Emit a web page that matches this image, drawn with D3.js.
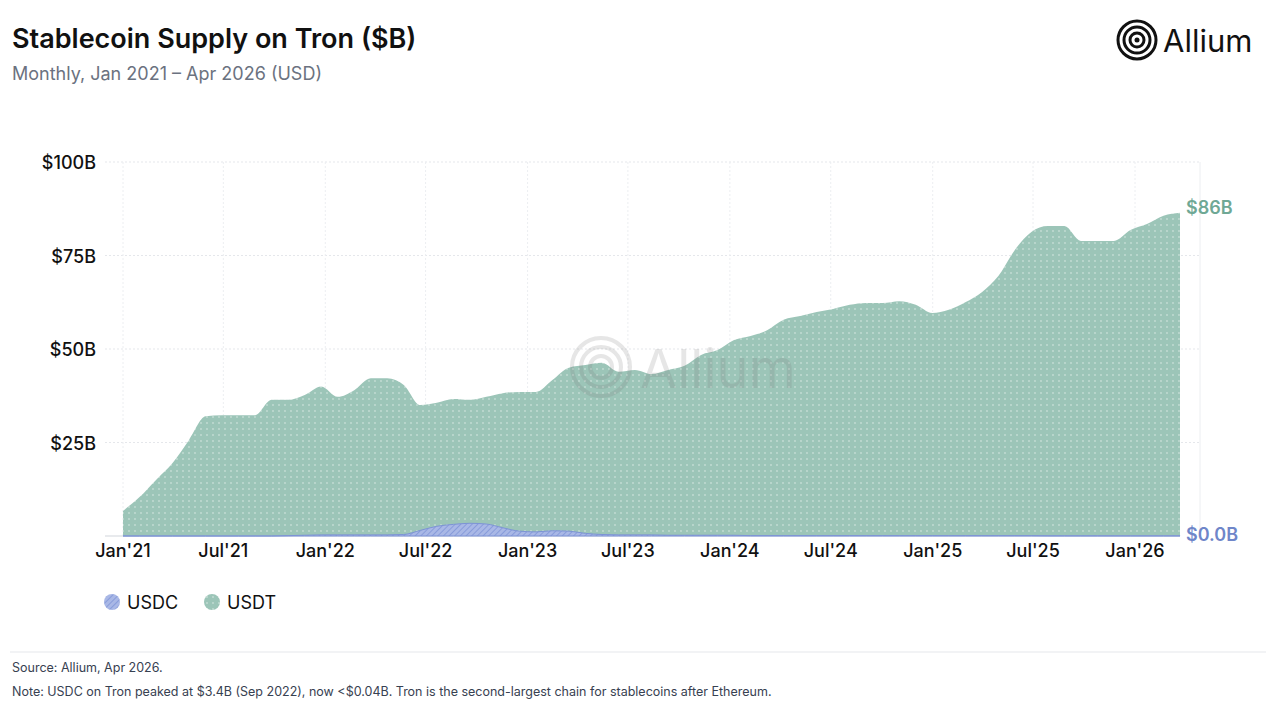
<!DOCTYPE html><html><head><meta charset="utf-8">
<script src="https://cdn.jsdelivr.net/npm/d3@7"></script>
<style>body{margin:0;background:#fff;font-family:Inter,"Noto Sans",sans-serif}</style></head><body>
<svg id="c" width="1276" height="708"></svg>
<script>
const usdt=[6.7,10.4,15,19.5,25.7,32,32.3,32.3,32.3,36.4,36.4,37.7,40,37.2,39,42.2,42.2,40.4,35,35.6,36.6,36.4,37.2,38.2,38.5,38.5,41.7,45,45.7,46.3,43.9,44.4,43.3,44.4,45.5,48.4,49.7,52.4,53.5,55,57.8,58.8,59.9,60.7,61.8,62.3,62.3,62.8,61.8,59.6,60.5,62.5,65.2,69.5,76.5,81.3,82.9,82.9,78.9,78.9,78.9,81.8,83.4,85.6,86.4];
const usdc=[0,0,0,0,0,0,0,0,0,0,0.1,0.2,0.3,0.3,0.3,0.3,0.3,0.4,1.5,2.6,3.1,3.4,3.2,2.2,1.3,1.1,1.4,1.3,0.7,0.4,0.3,0.3,0.3,0.2,0.2,0.2,0.2,0.2,0.1,0.1,0.1,0.1,0.1,0.1,0.1,0.1,0.1,0.1,0.1,0.1,0.1,0.1,0.1,0.1,0.1,0.1,0.05,0.05,0.05,0.05,0.04,0.04,0.04,0.04,0.04];
const yTicks=[25,50,75,100];
const xTickLabels=["Jan'21","Jul'21","Jan'22","Jul'22","Jan'23","Jul'23","Jan'24","Jul'24","Jan'25","Jul'25","Jan'26"];
const svg=d3.select("#c");
const x=d3.scaleTime().domain([new Date(2021,0,1),new Date(2026,0,1)]).range([123,1135]);
const xi=d3.scaleLinear().domain([0,usdt.length-1]).range([123,1180]);
const y=d3.scaleLinear().domain([0,100]).range([536,162]);
const defs=svg.append("defs");
const pd=defs.append("pattern").attr("id","dots").attr("width",6).attr("height",6).attr("patternUnits","userSpaceOnUse");
pd.append("rect").attr("width",6).attr("height",6).attr("fill","#9cc5b8");
pd.append("circle").attr("cx",3).attr("cy",3).attr("r",0.9).attr("fill","#c4ddd5");
const ph=defs.append("pattern").attr("id","hatch").attr("width",4).attr("height",4).attr("patternUnits","userSpaceOnUse").attr("patternTransform","rotate(45)");
ph.append("rect").attr("width",4).attr("height",4).attr("fill","#a9b8e6");
ph.append("line").attr("x1",0).attr("y1",0).attr("x2",0).attr("y2",4).attr("stroke","#7d93d6").attr("stroke-width",1.5);
svg.append("text").attr("x",12).attr("y",48).attr("font-size",27).attr("font-weight",600).attr("fill","#111").text("Stablecoin Supply on Tron ($B)");
svg.append("text").attr("x",12).attr("y",80).attr("font-size",18).attr("fill","#6b7280").text("Monthly, Jan 2021 – Apr 2026 (USD)");
const lg=svg.append("g").attr("transform","translate(1137,40)");
[19,13,7].forEach(r=>lg.append("circle").attr("r",r).attr("fill","none").attr("stroke","#111").attr("stroke-width",3));
lg.append("circle").attr("r",2.5).attr("fill","#111");
svg.append("text").attr("x",1163).attr("y",52).attr("font-size",31).attr("fill","#111").text("Allium");
const g=svg.append("g");
yTicks.forEach(t=>g.append("line").attr("x1",105).attr("x2",1200).attr("y1",y(t)).attr("y2",y(t)).attr("stroke","#e5e7eb").attr("stroke-dasharray","2,2"));
const xt=xTickLabels.map((l,i)=>new Date(2021,i*6,1));
xt.forEach(t=>g.append("line").attr("x1",x(t)).attr("x2",x(t)).attr("y1",162).attr("y2",536).attr("stroke","#eceef1").attr("stroke-dasharray","2,2"));
g.append("line").attr("x1",1200).attr("x2",1200).attr("y1",162).attr("y2",536).attr("stroke","#eceef1");
g.append("line").attr("x1",105).attr("x2",1180).attr("y1",536).attr("y2",536).attr("stroke","#d1d5db");
const area=arr=>d3.area().x((d,i)=>xi(i)).y0(y(0)).y1(d=>y(d)).curve(d3.curveMonotoneX)(arr);
svg.append("path").attr("d",area(usdt)).attr("fill","url(#dots)");
svg.append("path").attr("d",area(usdc)).attr("fill","url(#hatch)").attr("stroke","#7d93d6").attr("stroke-width",1);
const wm=svg.append("g").attr("opacity",0.18);
const wg=wm.append("g").attr("transform","translate(601,367)");
[29,20,11].forEach(r=>wg.append("circle").attr("r",r).attr("fill","none").attr("stroke","#777").attr("stroke-width",4));
wm.append("text").attr("x",640).attr("y",388).attr("font-size",54).attr("fill","#777").text("Allium");
yTicks.forEach(t=>svg.append("text").attr("x",96).attr("y",y(t)+7).attr("text-anchor","end").attr("font-size",18).attr("font-weight",500).attr("fill","#111").text("$"+t+"B"));
xt.forEach((t,i)=>svg.append("text").attr("x",x(t)).attr("y",557).attr("text-anchor","middle").attr("font-size",18).attr("font-weight",500).attr("fill","#111").text(xTickLabels[i]));
svg.append("text").attr("x",1186).attr("y",y(usdt[usdt.length-1])+1).attr("font-size",18).attr("font-weight",600).attr("fill","#6fa895").text("$86B");
svg.append("text").attr("x",1186).attr("y",541).attr("font-size",18).attr("font-weight",600).attr("fill","#6f86c9").text("$0.0B");
[["USDC","url(#hatch)",112],["USDT","url(#dots)",212]].forEach(([n,f,lx])=>{
 svg.append("circle").attr("cx",lx).attr("cy",602).attr("r",8).attr("fill",f);
 svg.append("text").attr("x",lx+15).attr("y",609).attr("font-size",18).attr("fill","#111").text(n);
});
svg.append("line").attr("x1",10).attr("x2",1266).attr("y1",652).attr("y2",652).attr("stroke","#e5e7eb");
svg.append("text").attr("x",12).attr("y",672).attr("font-size",12.5).attr("fill","#374151").text("Source: Allium, Apr 2026.");
svg.append("text").attr("x",12).attr("y",696).attr("font-size",12.5).attr("fill","#374151").text("Note: USDC on Tron peaked at $3.4B (Sep 2022), now <$0.04B. Tron is the second-largest chain for stablecoins after Ethereum.");
</script></body></html>
